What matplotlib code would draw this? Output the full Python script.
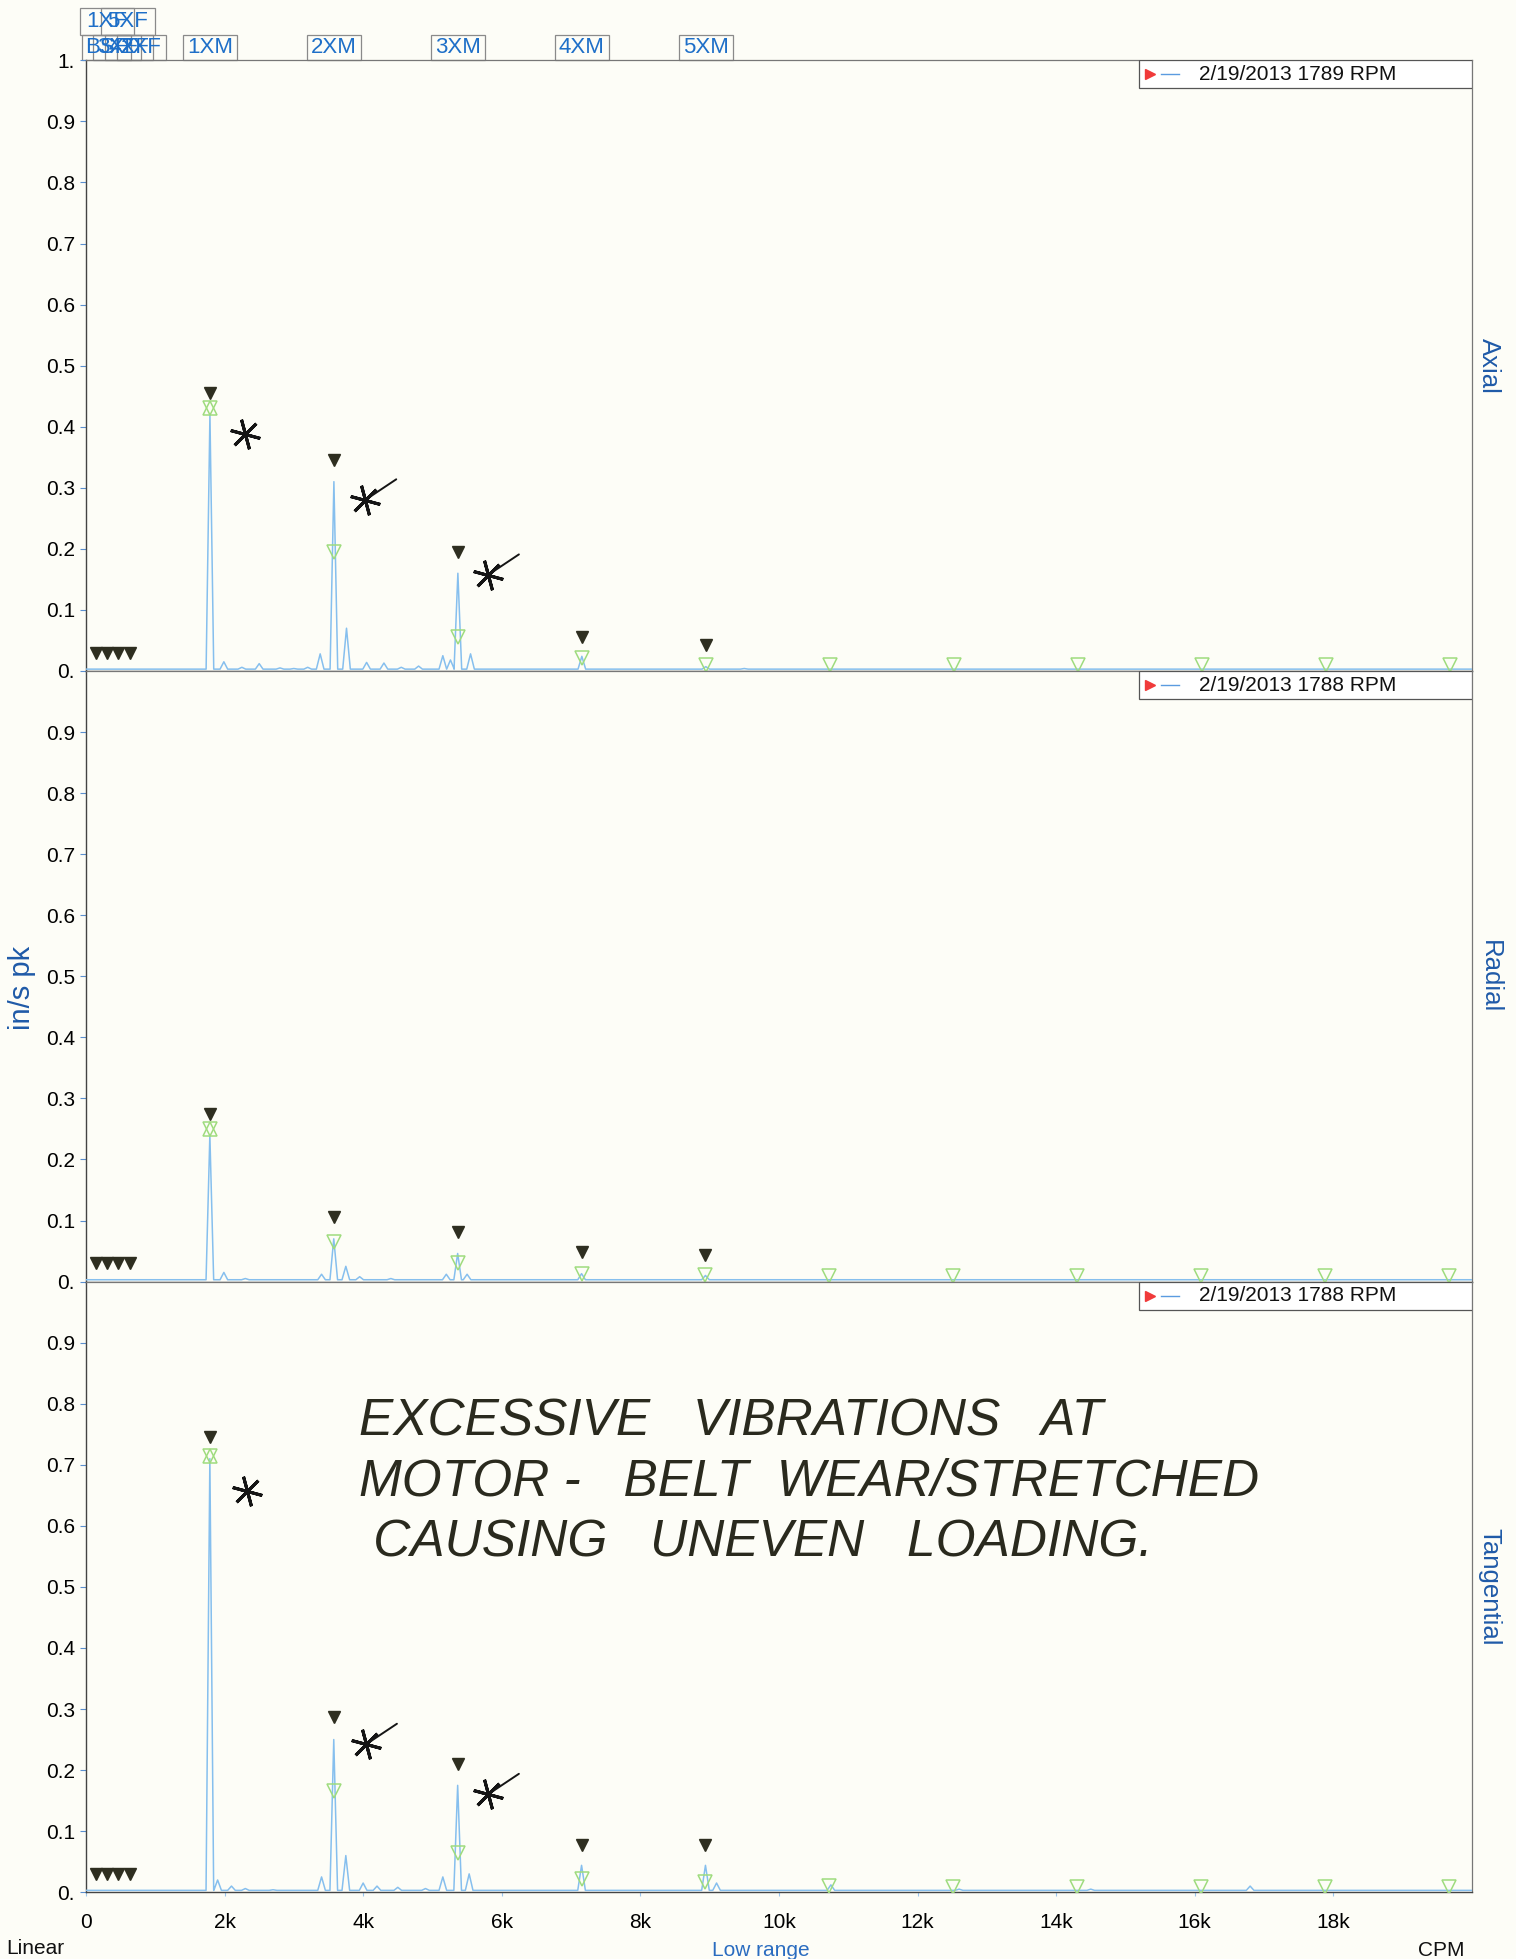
import matplotlib.pyplot as plt
from matplotlib.patches import Rectangle

plt.rcParams['font.family'] = ['Liberation Sans', 'DejaVu Sans']

# running speed harmonics, CPM (1X .. 11X)
harm_axial = [1789, 3578, 5367, 7156, 8945, 10734, 12523, 14312, 16101, 17890, 19679]
harm_other = [1788, 3576, 5364, 7152, 8940, 10728, 12516, 14304, 16092, 17880, 19668]

# spectral lines (CPM, in/s pk)
axial_freq = [1789, 1990, 2250, 2500, 2800, 3000, 3200, 3380, 3578, 3760, 4050, 4300, 4550,
              4800, 5150, 5260, 5367, 5550, 7156, 8945, 9500, 12600]
axial_amp = [0.42, 0.015, 0.006, 0.012, 0.005, 0.004, 0.006, 0.028, 0.31, 0.07, 0.014, 0.013, 0.006,
             0.008, 0.025, 0.018, 0.16, 0.028, 0.024, 0.007, 0.004, 0.003]

radial_freq = [1788, 1990, 2300, 3400, 3576, 3750, 3950, 4400, 5200, 5364, 5500, 7152, 8940]
radial_amp = [0.24, 0.015, 0.005, 0.012, 0.07, 0.025, 0.008, 0.005, 0.012, 0.046, 0.012, 0.013, 0.01]

tang_freq = [1788, 1900, 2100, 2300, 2700, 3400, 3576, 3750, 4000, 4200, 4500, 4900, 5150, 5364,
             5530, 7152, 8940, 9100, 10750, 12600, 14500, 16800]
tang_amp = [0.71, 0.02, 0.01, 0.006, 0.004, 0.025, 0.25, 0.06, 0.015, 0.01, 0.008, 0.006, 0.025, 0.175,
            0.03, 0.044, 0.044, 0.015, 0.012, 0.005, 0.005, 0.01]

# peak markers above 1X..5X
axial_mark = [0.455, 0.345, 0.195, 0.055, 0.042]
radial_mark = [0.275, 0.105, 0.082, 0.048, 0.044]
tang_mark = [0.745, 0.287, 0.21, 0.077, 0.077]

# hollow harmonic markers 1X..11X
axial_green = [0.43, 0.195, 0.055, 0.022, 0.009, 0.009, 0.009, 0.009, 0.009, 0.009, 0.009]
radial_green = [0.25, 0.065, 0.03, 0.012, 0.01, 0.009, 0.009, 0.009, 0.009, 0.009, 0.009]
tang_green = [0.715, 0.165, 0.065, 0.022, 0.016, 0.01, 0.009, 0.009, 0.009, 0.009, 0.009]

# fan markers near the origin
fan_freq = [140, 300, 460, 630]
fan_amp = [0.03, 0.03, 0.03, 0.03]

# hand-drawn stars next to the peaks
axial_star_x = [2300, 4030, 5800]
axial_star_y = [0.388, 0.28, 0.157]
tang_star_x = [2320, 4040, 5800]
tang_star_y = [0.657, 0.242, 0.16]

panels = ["Axial", "Radial", "Tangential"]
legend_text = ["2/19/2013 1789 RPM", "2/19/2013 1788 RPM", "2/19/2013 1788 RPM"]

harm_labels = ["1XM", "2XM", "3XM", "4XM", "5XM"]
fan_labels_top = ["1XF", "5XF"]
fan_pos_top = [300, 600]
fan_labels_low = ["BSF", "3XF", "4XF", "2XF"]
fan_pos_low = [300, 450, 620, 800]

note = "EXCESSIVE   VIBRATIONS   AT\nMOTOR -   BELT  WEAR/STRETCHED\n CAUSING   UNEVEN   LOADING."

LINE = '#86bfee'
GREEN = '#9fdc7e'
DARK = '#2e2e20'
BLUE = '#1f5aa8'
PAPER = '#fdfdf7'


def spectrum_line(freqs, amps, hw=55, floor=0.003, fmax=20000):
    xs, ys = [0], [floor]
    for f, a in sorted(zip(freqs, amps)):
        xs += [f - hw, f, f + hw]
        ys += [floor, a, floor]
    xs.append(fmax)
    ys.append(floor)
    return xs, ys


def draw_panel(ax, freqs, amps, harm, marks, green, name, legend):
    ax.set_facecolor(PAPER)
    xs, ys = spectrum_line(freqs, amps)
    ax.plot(xs, ys, color=LINE, lw=1.1, zorder=3)
    ax.plot(harm[:5], marks, 'v', color=DARK, ms=9, zorder=5)
    ax.plot(harm, green, 'v', mfc='none', mec=GREEN, ms=10, mew=1.1, zorder=4)
    ax.plot(harm[:1], green[:1], '^', mfc='none', mec=GREEN, ms=10, mew=1.1, zorder=4)
    ax.plot(fan_freq, fan_amp, 'v', color=DARK, ms=9, zorder=5)

    ax.set_xlim(0, 20000)
    ax.set_ylim(0, 1.0)
    ax.set_yticks([i / 10 for i in range(10)])
    ax.set_yticklabels(["0."] + [f"0.{i}" for i in range(1, 10)])
    ax.tick_params(axis='y', length=4, color='#5a8fd0', labelsize=15, pad=4)
    ax.tick_params(axis='x', length=3, color='#9cc6ee', labelsize=15, pad=12)
    ax.set_xticks(range(0, 20000, 2000))
    ax.set_xticklabels(["0"] + [f"{k}k" for k in range(2, 20, 2)])
    for side in ['left', 'bottom']:
        ax.spines[side].set_color('#444')
        ax.spines[side].set_linewidth(1.0)
    for side in ['top', 'right']:
        ax.spines[side].set_color('#777')
        ax.spines[side].set_linewidth(0.9)

    ax.text(1.004, 0.5, name, transform=ax.transAxes, rotation=-90, ha='left', va='center',
            color=BLUE, fontsize=18.5)

    # legend box in the upper right corner
    w, h = 0.24, 0.046
    ax.add_patch(Rectangle((1 - w, 1 - h), w, h, transform=ax.transAxes, fc='white',
                           ec='#555', lw=0.9, zorder=6))
    ax.plot([1 - w + 0.008], [1 - h / 2], '>', color='#f03a3a', ms=7, transform=ax.transAxes,
            zorder=7, clip_on=False)
    ax.plot([1 - w + 0.016, 1 - w + 0.029], [1 - h / 2, 1 - h / 2], color='#5b9be0', lw=1,
            transform=ax.transAxes, zorder=7, clip_on=False)
    ax.text(1 - w + 0.043, 1 - h / 2, legend, transform=ax.transAxes, ha='left', va='center',
            fontsize=15, color='#111', zorder=7)


def draw_stars(ax, sx, sy):
    ax.plot(sx, sy, marker=(6, 2, 15), ls='none', color='#151515', ms=22, mew=2.2, zorder=6)
    for x, y in zip(sx[1:], sy[1:]):
        ax.annotate('', xy=(x, y), xytext=(24, 16), textcoords='offset points',
                    arrowprops=dict(arrowstyle='-', lw=1.4, color='#151515'), zorder=6)


def tag(ax, label, f, y0, h, bw=780):
    # boxed frequency label sitting above the plot frame
    tr = ax.get_xaxis_transform()
    ax.add_patch(Rectangle((f - bw / 2, y0), bw, h, transform=tr, fc='none', ec='#8a8a8a',
                           lw=0.9, clip_on=False))
    ax.text(f, y0 + h / 2, label, transform=tr, ha='center', va='center', fontsize=16,
            color='#1e6fc8', clip_on=False)


fig = plt.figure(figsize=(15.16, 19.59), dpi=100, facecolor=PAPER)
left, width, height = 0.0567, 0.9142, 0.3117
ax1 = fig.add_axes([left, 0.6575, width, height])
ax2 = fig.add_axes([left, 0.3458, width, height])
ax3 = fig.add_axes([left, 0.0341, width, height])

draw_panel(ax1, axial_freq, axial_amp, harm_axial, axial_mark, axial_green, panels[0], legend_text[0])
draw_panel(ax2, radial_freq, radial_amp, harm_other, radial_mark, radial_green, panels[1], legend_text[1])
draw_panel(ax3, tang_freq, tang_amp, harm_other, tang_mark, tang_green, panels[2], legend_text[2])

ax1.set_yticks([i / 10 for i in range(11)])
ax1.set_yticklabels(["0."] + [f"0.{i}" for i in range(1, 10)] + ["1."])
ax1.tick_params(labelbottom=False)
ax2.tick_params(labelbottom=False)

draw_stars(ax1, axial_star_x, axial_star_y)
draw_stars(ax3, tang_star_x, tang_star_y)

# harmonic and fan labels above the top panel
for lab, f in zip(harm_labels, harm_axial[:5]):
    tag(ax1, lab, f, 1.0, 0.041)
for lab, f in zip(fan_labels_low, fan_pos_low):
    tag(ax1, lab, f, 1.0, 0.041, bw=700)
for lab, f in zip(fan_labels_top, fan_pos_top):
    tag(ax1, lab, f, 1.041, 0.044, bw=780)

# handwritten note on the tangential panel
ax3.text(0.197, 0.81, note, transform=ax3.transAxes, fontsize=37, style='italic',
         color='#2a2a1e', ha='left', va='top', linespacing=1.3)

fig.text(22 / 1516, 1 - 988 / 1959, "in/s pk", rotation=90, ha='center', va='center',
         color=BLUE, fontsize=21)
fig.text(6 / 1516, 1 - 1948 / 1959, "Linear", ha='left', va='center', fontsize=15, color='#111')
fig.text(761 / 1516, 1 - 1950 / 1959, "Low range", ha='center', va='center', fontsize=15,
         color='#2a6cc0')
fig.text(1441 / 1516, 1 - 1951 / 1959, "CPM", ha='center', va='center', fontsize=15, color='#111')

fig.savefig("out.png", dpi=100, facecolor=PAPER)
